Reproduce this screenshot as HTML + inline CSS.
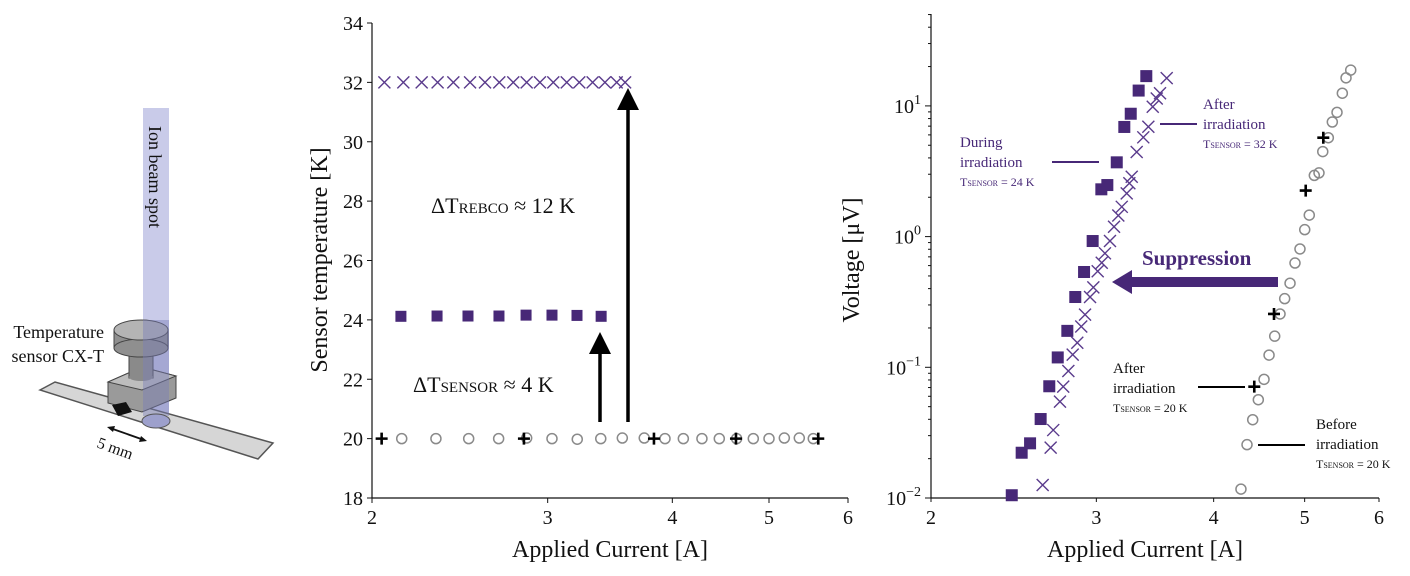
<!DOCTYPE html>
<html><head><meta charset="utf-8"><style>
html,body{margin:0;padding:0;background:#fff;}
svg{display:block;font-family:"Liberation Serif",serif;}
</style></head><body>
<svg id="fig" width="1410" height="576" viewBox="0 0 1410 576">
  <g>
    <rect x="143" y="108" width="26" height="312" fill="#c9cbe9"/>
    <text transform="translate(149,126) rotate(90)" font-size="18" fill="#111">Ion beam spot</text>
    <polygon points="40,390 55,382 273,443 258,459" fill="#d6d6d6" stroke="#555" stroke-width="1.5"/>
    <polygon points="108,382 142,367 176,376 176,398 142,412 108,403" fill="#9a9a9a" stroke="#444" stroke-width="1"/>
    <polygon points="108,382 142,390 176,376 142,367" fill="#bdbdbd" stroke="#444" stroke-width="1"/>
    <rect x="129" y="350" width="24" height="28" fill="#8a8a8a" stroke="#444" stroke-width="1"/>
    <ellipse cx="141" cy="377" rx="12" ry="4" fill="#8a8a8a"/>
    <rect x="114" y="330" width="54" height="18" fill="#8f8f8f" stroke="#444" stroke-width="1"/>
    <ellipse cx="141" cy="348" rx="27" ry="9" fill="#8f8f8f" stroke="#444" stroke-width="1"/>
    <ellipse cx="141" cy="330" rx="27" ry="10" fill="#b4b4b4" stroke="#444" stroke-width="1"/>
    <rect x="143" y="320" width="26" height="96" fill="#7b7fb8" opacity="0.45"/>
    <polygon points="112,405 126,402 132,412 118,416" fill="#111"/>
    <ellipse cx="156" cy="421" rx="14" ry="7" fill="#9da0cc" stroke="#555" stroke-width="1"/>
    <text x="104" y="338" font-size="18" text-anchor="end" fill="#111">Temperature</text>
    <text x="104" y="362" font-size="18" text-anchor="end" fill="#111">sensor CX-T</text>
    <line x1="110" y1="428" x2="144" y2="440" stroke="#111" stroke-width="1.8"/>
    <polygon points="107,427 115,426 113,432" fill="#111"/>
    <polygon points="147,441 139,442 141,436" fill="#111"/>
    <text transform="translate(96,447) rotate(20)" font-size="16" fill="#111">5 mm</text>
  </g>
  <g id="mid"></g>
  <g id="right"></g>
</svg>
<script>
const midXTicks = [2, 3, 4, 5, 6];
const midYTicks = [18, 20, 22, 24, 26, 28, 30, 32, 34];
const afterCurrent32 = [2.058,2.150,2.243,2.327,2.413,2.508,2.596,2.683,2.771,2.858,2.947,3.039,3.135,3.227,3.328,3.424,3.518,3.587];
const afterTemp32 = [32,32,32,32,32,32,32,32,32,32,32,32,32,32,32,32,32,32];
const duringCurrent = [2.138,2.324,2.496,2.681,2.854,3.030,3.210,3.394];
const duringTemp = [24.12,24.13,24.13,24.13,24.16,24.16,24.15,24.12];
const beforeCurrent = [2.142,2.318,2.500,2.679,2.858,3.030,3.212,3.391,3.564,3.749,3.933,4.103,4.283,4.458,4.640,4.822,5.000,5.180,5.362,5.538];
const beforeTemp = [20,20,20,20,20.02,20,19.98,20,20.02,20.02,20,20,20,20,20,20,20,20.02,20.02,20];
const after20Current = [2.045,2.840,3.834,4.633,5.602];
const after20Temp = [20,20,20,20,20];

const rightXTicks = [2, 3, 4, 5, 6];
const rightYExp = [-2, -1, 0, 1];
const sqI = [2.438,2.498,2.550,2.617,2.673,2.729,2.794,2.849,2.911,2.973,3.037,3.082,3.154,3.213,3.264,3.328,3.391];
const sqV = [0.0105,0.0222,0.0262,0.0402,0.0716,0.119,0.190,0.345,0.536,0.925,2.30,2.48,3.70,6.90,8.71,13.1,16.9];
const xI = [2.630,2.682,2.699,2.744,2.766,2.801,2.831,2.863,2.891,2.918,2.954,2.978,3.010,3.040,3.064,3.102,3.133,3.166,3.193,3.232,3.253,3.272,3.312,3.366,3.408,3.445,3.479,3.507,3.565];
const xV = [0.01258,0.0243,0.0331,0.0546,0.0711,0.0937,0.125,0.154,0.205,0.253,0.345,0.409,0.543,0.631,0.745,0.925,1.19,1.45,1.69,2.14,2.56,2.87,4.44,5.75,6.93,9.86,11.4,12.5,16.3];
const cI = [4.277,4.341,4.402,4.463,4.526,4.582,4.646,4.707,4.761,4.824,4.883,4.943,5.001,5.057,5.120,5.179,5.227,5.299,5.351,5.413,5.484,5.534,5.598];
const cV = [0.0117,0.0256,0.0397,0.0565,0.0809,0.124,0.173,0.256,0.335,0.440,0.628,0.804,1.13,1.46,2.94,3.07,4.47,5.71,7.53,8.93,12.5,16.4,18.8];
const pI = [4.419,4.638,5.013,5.234];
const pV = [0.0711,0.256,2.25,5.71];

const NS = "http://www.w3.org/2000/svg";
const PURPLE = "#472877";
function mk(parent, tag, attrs) {
  const e = document.createElementNS(NS, tag);
  for (const k in attrs) e.setAttribute(k, attrs[k]);
  parent.appendChild(e);
  return e;
}
function txt(parent, x, y, s, size, anchor, fill) {
  const t = mk(parent, "text", {x: x, y: y, "font-size": size, "text-anchor": anchor || "start", fill: fill || "#111"});
  t.textContent = s;
  return t;
}
function square(g, x, y, s, fill) { return mk(g, "rect", {x: x - s/2, y: y - s/2, width: s, height: s, fill: fill}); }
function cross(g, x, y, s, col) {
  return mk(g, "path", {d: `M${x-s} ${y-s}L${x+s} ${y+s}M${x-s} ${y+s}L${x+s} ${y-s}`, stroke: col, "stroke-width": 1.4, fill: "none"});
}
function plus(g, x, y, s) {
  return mk(g, "path", {d: `M${x-s} ${y}L${x+s} ${y}M${x} ${y-s}L${x} ${y+s}`, stroke: "#000", "stroke-width": 2.6, fill: "none"});
}
function circ(g, x, y) { return mk(g, "circle", {cx: x, cy: y, r: 5, fill: "none", stroke: "#8a8a8a", "stroke-width": 1.5}); }

(function(){
  const g = document.getElementById("mid");
  const X0 = 372, X1 = 848, Y0 = 498, Y1 = 23;
  const sx = v => X0 + Math.log(v / 2) / Math.log(3) * (X1 - X0);
  const sy = v => Y0 - (v - 18) / 16 * (Y0 - Y1);
  const ax = mk(g, "path", {d: `M${X0} ${Y1}L${X0} ${Y0}L${X1} ${Y0}`, stroke: "#111", "stroke-width": 1.2, fill: "none"});
  
  
  midYTicks.forEach(v => {
    mk(g, "line", {x1: X0 - 5, x2: X0, y1: sy(v), y2: sy(v), stroke: "#111"});
    const t = txt(g, X0 - 9, sy(v) + 7, String(v), 20, "end");
    
    
  });
  midXTicks.forEach(v => {
    mk(g, "line", {x1: sx(v), x2: sx(v), y1: Y0, y2: Y0 + 5, stroke: "#111"});
    const t = txt(g, sx(v), Y0 + 26, String(v), 20, "middle");
    
    
  });
  const xt = txt(g, 610, 557, "Applied Current [A]", 24, "middle");
  
  
  const yt = mk(g, "text", {transform: "translate(327,260) rotate(-90)", "font-size": 24, "text-anchor": "middle", fill: "#111"});
  yt.textContent = "Sensor temperature [K]";
  
  

  afterCurrent32.forEach((v, i) => {
    const m = cross(g, sx(v), sy(afterTemp32[i]), 6, "#5a3b8c");
    
    
  });
  duringCurrent.forEach((v, i) => {
    const m = square(g, sx(v), sy(duringTemp[i]), 11, PURPLE);
    
    
  });
  beforeCurrent.forEach((v, i) => {
    const m = circ(g, sx(v), sy(beforeTemp[i]));
    
    
  });
  after20Current.forEach((v, i) => {
    const m = plus(g, sx(v), sy(after20Temp[i]), 6);
    
    
  });
  const a1 = mk(g, "line", {x1: 628, y1: 422, x2: 628, y2: 106, stroke: "#000", "stroke-width": 3.5});
  
  
  mk(g, "polygon", {points: "617,110 639,110 628,88", fill: "#000"});
  const a2 = mk(g, "line", {x1: 600, y1: 422, x2: 600, y2: 350, stroke: "#000", "stroke-width": 3.5});
  
  
  mk(g, "polygon", {points: "589,354 611,354 600,332", fill: "#000"});
  const l1 = mk(g, "text", {x: 431, y: 213, "font-size": 22, fill: "#111"});
  l1.innerHTML = 'ΔT<tspan font-size="15">REBCO</tspan> ≈ 12 K';
  
  
  const l2 = mk(g, "text", {x: 413, y: 392, "font-size": 22, fill: "#111"});
  l2.innerHTML = 'ΔT<tspan font-size="15">SENSOR</tspan> ≈ 4 K';
  
  
})();

(function(){
  const g = document.getElementById("right");
  const X0 = 931, X1 = 1379, Y0 = 498, DEC = 130.7, YT = 14;
  const sx = v => X0 + Math.log(v / 2) / Math.log(3) * (X1 - X0);
  const sy = v => Y0 - (Math.log10(v) + 2) * DEC;
  const ax = mk(g, "path", {d: `M${X0} ${YT}L${X0} ${Y0}L${X1} ${Y0}`, stroke: "#111", "stroke-width": 1.2, fill: "none"});
  
  
  rightYExp.forEach(e => {
    const y = sy(Math.pow(10, e));
    mk(g, "line", {x1: X0 - 6, x2: X0, y1: y, y2: y, stroke: "#111"});
    const t = mk(g, "text", {x: X0 - 10, y: y + 7, "font-size": 20, "text-anchor": "end", fill: "#111"});
    t.innerHTML = '10<tspan dy="-9" font-size="14">' + (e < 0 ? '−' + (-e) : e) + '</tspan>';
    
    
    for (let k = 2; k <= 9; k++) {
      const yy = sy(k * Math.pow(10, e));
      if (yy >= YT) mk(g, "line", {x1: X0 - 3, x2: X0, y1: yy, y2: yy, stroke: "#111"});
    }
  });
  rightXTicks.forEach(v => {
    mk(g, "line", {x1: sx(v), x2: sx(v), y1: Y0, y2: Y0 + 4, stroke: "#111"});
    const t = txt(g, sx(v), Y0 + 26, String(v), 20, "middle");
    
    
  });
  const xt = txt(g, 1145, 557, "Applied Current [A]", 24, "middle");
  
  
  const yt = mk(g, "text", {transform: "translate(859,260) rotate(-90)", "font-size": 24, "text-anchor": "middle", fill: "#111"});
  yt.textContent = "Voltage [μV]";
  
  

  cI.forEach((v, i) => {
    const m = circ(g, sx(v), sy(cV[i]));
    
    
  });
  xI.forEach((v, i) => {
    const m = cross(g, sx(v), sy(xV[i]), 6, "#5a3b8c");
    
    
  });
  sqI.forEach((v, i) => {
    const m = square(g, sx(v), sy(sqV[i]), 12, PURPLE);
    
    
  });
  pI.forEach((v, i) => {
    const m = plus(g, sx(v), sy(pV[i]), 6);
    
    
  });

  const sa = mk(g, "rect", {x: 1128, y: 277, width: 150, height: 10, fill: PURPLE});
  
  
  mk(g, "polygon", {points: "1132,270 1132,294 1112,282", fill: PURPLE});
  const st = mk(g, "text", {x: 1142, y: 265, "font-size": 21, "font-weight": "bold", fill: PURPLE});
  st.textContent = "Suppression";
  
  

  function ann(x, y, col, lines, name) {
    const a = txt(g, x, y, lines[0], 15, "start", col);
    
    
    txt(g, x, y + 20, lines[1], 15, "start", col);
    const t = mk(g, "text", {x: x, y: y + 39, "font-size": 12, fill: col});
    t.innerHTML = 'T<tspan font-size="8">SENSOR</tspan> = ' + lines[2];
  }
  ann(960, 147, PURPLE, ["During", "irradiation", "24 K"], "during-annotation");
  mk(g, "line", {x1: 1052, x2: 1099, y1: 162, y2: 162, stroke: PURPLE, "stroke-width": 2});
  ann(1203, 109, PURPLE, ["After", "irradiation", "32 K"], "after-32k-annotation");
  mk(g, "line", {x1: 1160, x2: 1197, y1: 124, y2: 124, stroke: PURPLE, "stroke-width": 2});
  ann(1113, 373, "#111", ["After", "irradiation", "20 K"], "after-20k-annotation");
  mk(g, "line", {x1: 1198, x2: 1245, y1: 387, y2: 387, stroke: "#000", "stroke-width": 2});
  ann(1316, 429, "#111", ["Before", "irradiation", "20 K"], "before-annotation");
  mk(g, "line", {x1: 1258, x2: 1305, y1: 445, y2: 445, stroke: "#000", "stroke-width": 2});
})();
</script>
</body></html>
